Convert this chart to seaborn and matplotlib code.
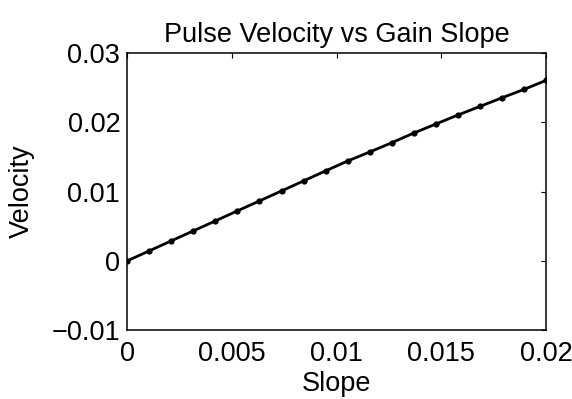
import numpy as np
import pandas as pd
import matplotlib
matplotlib.use("Agg")
import matplotlib.pyplot as plt
import seaborn as sns

# Gain slope samples and the measured pulse velocity at each
slope = np.linspace(0, 0.02, 20)
velocity = [0.0, 0.00144, 0.00289, 0.00433, 0.00577, 0.00722, 0.00866,
            0.0101, 0.01155, 0.0130, 0.01443, 0.01573, 0.01707, 0.01847,
            0.01977, 0.02107, 0.02232, 0.02356, 0.02478, 0.02608]

x_ticks = [0, 0.005, 0.01, 0.015, 0.02]
x_labels = ["0", "0.005", "0.01", "0.015", "0.02"]
y_ticks = [-0.01, 0, 0.01, 0.02, 0.03]
y_labels = ["\u22120.01", "0", "0.01", "0.02", "0.03"]

df = pd.DataFrame({"Slope": slope, "Velocity": velocity})

sns.set_style("white")
plt.rcParams["font.family"] = ["Liberation Sans", "DejaVu Sans"]
plt.rcParams["text.color"] = "black"
plt.rcParams["axes.labelcolor"] = "black"

FS = 19.5

fig = plt.figure(figsize=(5.72, 3.99), dpi=100)
ax = fig.add_axes([0.2225, 0.173, 0.732, 0.6934])

sns.lineplot(data=df, x="Slope", y="Velocity", ax=ax, color="black",
             linewidth=2.0, marker="o", markersize=4.5, markeredgewidth=0)

ax.set_xlim(0, 0.02)
ax.set_ylim(-0.01, 0.03)
ax.set_xticks(x_ticks)
ax.set_xticklabels(x_labels)
ax.set_yticks(y_ticks)
ax.set_yticklabels(y_labels)

ax.tick_params(direction="in", length=3.5, width=0.8, top=True, right=True,
               labelsize=FS, colors="black")
ax.tick_params(axis="x", pad=8)
ax.tick_params(axis="y", pad=5)
for side in ax.spines.values():
    side.set_visible(True)
    side.set_color("black")
    side.set_linewidth(1.1)

ax.set_title("Pulse Velocity vs Gain Slope", fontsize=FS, pad=8, color="black")
ax.set_xlabel("Slope", fontsize=FS, labelpad=3)
ax.set_ylabel("Velocity", fontsize=FS, labelpad=12)

fig.savefig("out.png", dpi=100)
